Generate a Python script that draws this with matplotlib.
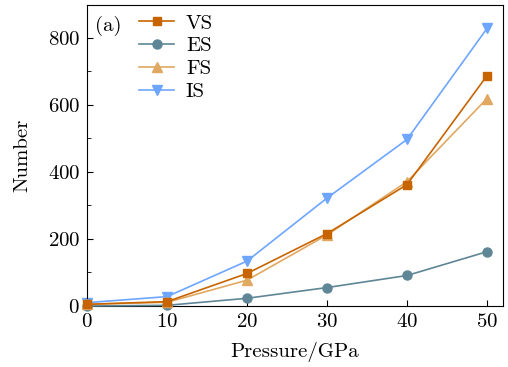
import matplotlib
matplotlib.use('Agg')
import matplotlib.pyplot as plt
from matplotlib.ticker import MultipleLocator

plt.rcParams['font.family'] = 'serif'
plt.rcParams['font.serif'] = ['cmr10', 'DejaVu Serif']
plt.rcParams['mathtext.fontset'] = 'cm'
plt.rcParams['axes.formatter.use_mathtext'] = True

pressure = [0, 10, 20, 30, 40, 50]
vs = [5, 13, 97, 216, 362, 687]
es = [0, 2, 23, 55, 91, 162]
fs = [5, 11, 77, 212, 371, 619]
is_ = [10, 28, 134, 322, 497, 828]

fig = plt.figure(figsize=(5.08, 3.67), dpi=100)
ax = fig.add_axes([87/508, 1 - 306/367, 416/508, 301/367])

ax.plot(pressure, vs, '-s', color='#c86400', ms=6, lw=1.2, label='VS', clip_on=False, zorder=4)
ax.plot(pressure, es, '-o', color='#5f8696', ms=6.5, lw=1.2, label='ES', clip_on=False, zorder=3)
ax.plot(pressure, fs, '-^', color='#e0a860', ms=7, lw=1.2, label='FS', clip_on=False, zorder=3)
ax.plot(pressure, is_, '-v', color='#6ea6ff', ms=7, lw=1.2, label='IS', clip_on=False, zorder=2)

ax.set_xlim(0, 52)
ax.set_ylim(0, 898)
ax.set_xticks([0, 10, 20, 30, 40, 50])
ax.set_yticks([0, 200, 400, 600, 800])
ax.yaxis.set_minor_locator(MultipleLocator(100))
ax.tick_params(direction='in', labelsize=15, top=False, right=False, length=4, pad=5)
ax.tick_params(which='minor', direction='in', length=3)
ax.set_xlabel('Pressure/GPa', fontsize=15, labelpad=8)
ax.set_ylabel('Number', fontsize=15, labelpad=12)
ax.text(0.02, 0.965, '(a)', transform=ax.transAxes, fontsize=15, va='top')
ax.legend(loc='upper left', bbox_to_anchor=(0.085, 1.025), frameon=False, fontsize=15,
          handlelength=1.7, labelspacing=0.2, borderpad=0.3, handletextpad=0.55)

fig.savefig('out.png', dpi=100)
